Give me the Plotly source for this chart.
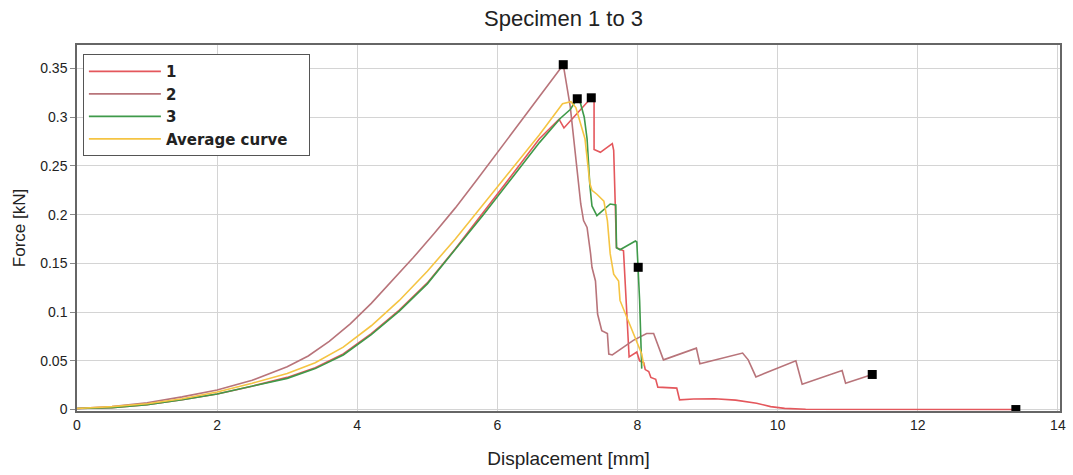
import plotly.graph_objects as go

# Specimen 1
spec1_x = [0, 0.5, 1, 1.5, 2, 2.5, 3.0, 3.4, 3.8, 4.2, 4.6, 5.0, 5.4, 5.8, 6.2, 6.6, 6.88,
           6.95, 7.05, 7.2, 7.34, 7.38, 7.38, 7.47, 7.64, 7.66, 7.70, 7.80, 7.82, 7.88, 7.99, 8.03,
           8.09, 8.11, 8.16, 8.19, 8.26, 8.29, 8.56, 8.60, 8.8, 9.1, 9.4, 9.7, 9.9, 10.1, 10.4,
           11.5, 13.40]
spec1_y = [0.001, 0.002, 0.005, 0.010, 0.016, 0.024, 0.033, 0.043, 0.057, 0.078, 0.102, 0.130,
           0.165, 0.202, 0.240, 0.278, 0.298, 0.289, 0.297, 0.309, 0.320, 0.318, 0.267, 0.264, 0.273,
           0.266, 0.166, 0.163, 0.132, 0.054, 0.059, 0.050, 0.048, 0.041, 0.039, 0.033, 0.031, 0.023,
           0.022, 0.010, 0.0108, 0.011, 0.0097, 0.0065, 0.003, 0.0012, 0.0003, 0.0, 0.0]

# Specimen 2
spec2_x = [0, 0.5, 1, 1.5, 2, 2.5, 3.0, 3.3, 3.6, 3.9, 4.2, 4.5, 4.8, 5.1, 5.4, 5.7, 6.0, 6.3,
           6.6, 6.94, 7.04, 7.16, 7.19, 7.23, 7.28, 7.33, 7.35, 7.40, 7.42, 7.43, 7.49, 7.57, 7.59,
           7.64, 7.94, 8.13, 8.23, 8.37, 8.84, 8.89, 9.50, 9.58, 9.69, 10.26, 10.35, 10.92, 10.97,
           11.35]
spec2_y = [0.001, 0.003, 0.007, 0.013, 0.020, 0.030, 0.044, 0.055, 0.070, 0.088, 0.109, 0.132,
           0.156, 0.181, 0.207, 0.235, 0.264, 0.293, 0.322, 0.354, 0.311, 0.229, 0.211, 0.194, 0.187,
           0.160, 0.146, 0.132, 0.115, 0.098, 0.081, 0.078, 0.057, 0.056, 0.071, 0.078, 0.078, 0.051,
           0.063, 0.047, 0.058, 0.051, 0.0335, 0.050, 0.026, 0.040, 0.027, 0.036]

# Specimen 3
spec3_x = [0, 0.5, 1, 1.5, 2, 2.5, 3.0, 3.4, 3.8, 4.2, 4.6, 5.0, 5.4, 5.8, 6.2, 6.6, 6.9, 7.04,
           7.14, 7.18, 7.24, 7.28, 7.32, 7.35, 7.42, 7.61, 7.69, 7.70, 7.75, 7.97, 7.99, 8.01, 8.03,
           8.06]
spec3_y = [0.001, 0.002, 0.005, 0.010, 0.016, 0.024, 0.032, 0.042, 0.056, 0.077, 0.101, 0.129,
           0.164, 0.200, 0.237, 0.274, 0.299, 0.308, 0.319, 0.316, 0.300, 0.278, 0.230, 0.209, 0.199,
           0.211, 0.210, 0.166, 0.164, 0.173, 0.172, 0.146, 0.112, 0.042]

# Average curve
avg_x = [0, 0.5, 1, 1.5, 2, 2.5, 3.0, 3.4, 3.8, 4.2, 4.6, 5.0, 5.4, 5.8, 6.2, 6.6, 6.93, 7.05,
         7.12, 7.25, 7.32, 7.35, 7.42, 7.52, 7.57, 7.61, 7.66, 7.73, 7.75, 8.06, 8.09]
avg_y = [0.001, 0.003, 0.006, 0.011, 0.018, 0.027, 0.037, 0.048, 0.064, 0.086, 0.112, 0.142,
         0.175, 0.211, 0.246, 0.282, 0.314, 0.316, 0.310, 0.278, 0.232, 0.225, 0.221, 0.214, 0.194,
         0.160, 0.139, 0.132, 0.112, 0.057, 0.045]

# Maximum force and break points
mark_x = [6.94, 7.14, 7.34, 8.01, 11.35, 13.40]
mark_y = [0.354, 0.319, 0.320, 0.146, 0.036, 0.0]

names = ["1", "2", "3", "Average curve\u00a0\u00a0\u00a0"]
colors = ["#E4575C", "#B8747A", "#3F9A4A", "#F5C443"]
series = [(spec1_x, spec1_y), (spec2_x, spec2_y), (spec3_x, spec3_y), (avg_x, avg_y)]

fig = go.Figure()
for (xs, ys), name, col in zip(series, names, colors):
    fig.add_trace(go.Scatter(
        x=xs, y=ys, mode="lines", name=name,
        line=dict(color=col, width=1.6),
    ))

fig.add_trace(go.Scatter(
    x=mark_x, y=mark_y, mode="markers", showlegend=False,
    marker=dict(symbol="square", size=9, color="black"),
))

fig.update_layout(
    width=1073, height=475,
    margin=dict(l=77, r=7, t=45, b=64),
    paper_bgcolor="white", plot_bgcolor="white",
    font=dict(family="Liberation Sans, Arial, sans-serif", color="#222", size=14),
    title=dict(text="Specimen 1 to 3", x=0.495, xref="paper", xanchor="center",
               y=0.962, yanchor="middle", font=dict(size=22, color="#222")),
    legend=dict(
        x=0.006, y=0.975, xanchor="left", yanchor="top",
        bgcolor="white", bordercolor="#555", borderwidth=1,
        font=dict(family="DejaVu Sans, sans-serif", size=15, color="#222", weight="bold"),
        itemwidth=72,
    ),
)

fig.update_xaxes(
    range=[0, 14.03], tickvals=[0, 2, 4, 6, 8, 10, 12, 14],
    showgrid=True, gridcolor="#d4d4d4", gridwidth=1.3,
    showline=True, linecolor="#666", linewidth=1.5, mirror=True,
    zeroline=False, ticks="",
    title=dict(text="Displacement [mm]", font=dict(size=19), standoff=20),
)
fig.update_yaxes(
    range=[-0.0015, 0.3742], tickvals=[0, 0.05, 0.1, 0.15, 0.2, 0.25, 0.3, 0.35],
    ticktext=["0", "0.05", "0.1", "0.15", "0.2", "0.25", "0.3", "0.35"],
    showgrid=True, gridcolor="#d4d4d4", gridwidth=1.3,
    showline=True, linecolor="#666", linewidth=1.5, mirror=True,
    zeroline=False, ticks="outside", ticklen=5, tickcolor="#888",
    title=dict(text="Force [kN]", font=dict(size=17), standoff=10),
)

fig.write_html("out.html")
